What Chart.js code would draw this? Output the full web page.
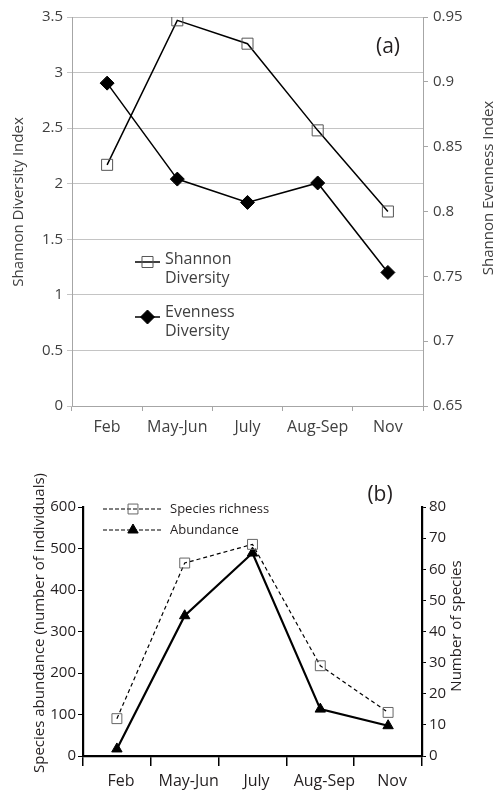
<!DOCTYPE html>
<html>
<head>
<meta charset="utf-8">
<script src="https://cdn.jsdelivr.net/npm/chart.js@4/dist/chart.umd.min.js"></script>
<style>
  html, body { margin: 0; padding: 0; background: #fff; }
  canvas { display: block; }
</style>
</head>
<body>
<canvas id="chartA" width="498" height="440"></canvas>
<canvas id="chartB" width="498" height="351"></canvas>
<script>
// --- data ---
const months = ['Feb', 'May-Jun', 'July', 'Aug-Sep', 'Nov'];
const shannon = [2.17, 3.47, 3.26, 2.48, 1.75];
const evenness = [0.899, 0.825, 0.807, 0.822, 0.753];
const abundance = [17, 338, 489, 113, 73];
const richness = [12, 62, 68, 29, 14];

Chart.defaults.font.family = "'Open Sans', sans-serif";
Chart.defaults.devicePixelRatio = 1;

const grayText = '#404040';
const blackText = '#231f20';
const gridGray = '#c4c4c4';
const axisGray = '#a6a6a6';

const fix = (prop, v) => (scale) => { scale[prop] = v; };
const fmt = (v) => String(+Number(v).toFixed(2));

// draws free text (axis titles, panel letters)
const textPlugin = {
  id: 'freeText',
  afterDraw(chart, args, opts) {
    const ctx = chart.ctx;
    (opts.items || []).forEach(it => {
      ctx.save();
      ctx.font = it.font;
      ctx.fillStyle = it.color;
      ctx.textAlign = 'center';
      ctx.textBaseline = 'middle';
      ctx.translate(it.x, it.y);
      if (it.rot) ctx.rotate(it.rot);
      ctx.fillText(it.text, 0, 0);
      ctx.restore();
    });
  }
};

// legend drawn inside the plot like the excel one
const innerLegend = {
  id: 'innerLegend',
  afterDatasetsDraw(chart, args, o) {
    if (!o.rows) return;
    const ctx = chart.ctx;
    o.rows.forEach((row, i) => {
      const ds = chart.data.datasets[i];
      ctx.save();
      ctx.strokeStyle = ds.borderColor;
      ctx.lineWidth = o.lineWidth;
      ctx.setLineDash(o.dash || []);
      ctx.beginPath();
      ctx.moveTo(o.x0, row.y);
      ctx.lineTo(o.x1, row.y);
      ctx.stroke();
      ctx.setLineDash([]);
      ctx.fillStyle = ds.pointBackgroundColor;
      ctx.strokeStyle = ds.pointBorderColor;
      ctx.lineWidth = ds.pointBorderWidth;
      Chart.helpers.drawPoint(ctx, {
        pointStyle: ds.pointStyle, radius: ds.pointRadius, rotation: 0, borderWidth: ds.pointBorderWidth
      }, (o.x0 + o.x1) / 2, row.y);
      ctx.font = o.font;
      ctx.fillStyle = o.color;
      ctx.textAlign = 'left';
      ctx.textBaseline = o.baseline || 'alphabetic';
      row.lines.forEach((t, j) => ctx.fillText(t, o.tx, row.ty + j * o.lh));
      ctx.restore();
    });
  }
};

// ---------- (a) ----------
new Chart(document.getElementById('chartA'), {
  type: 'line',
  data: {
    labels: months,
    datasets: [
      {
        label: 'Shannon Diversity', data: shannon, yAxisID: 'y',
        borderColor: '#000', borderWidth: 1.5, tension: 0,
        pointStyle: 'rect', pointRadius: 7.8, pointBorderWidth: 1,
        pointBackgroundColor: 'rgba(0,0,0,0)', pointBorderColor: '#555'
      },
      {
        label: 'Evenness Diversity', data: evenness, yAxisID: 'y1',
        borderColor: '#000', borderWidth: 1.5, tension: 0,
        pointStyle: 'rectRot', pointRadius: 7, pointBorderWidth: 1,
        pointBackgroundColor: '#000', pointBorderColor: '#000'
      }
    ]
  },
  options: {
    responsive: false,
    animation: false,
    layout: { padding: { top: 17, left: 0, right: 0, bottom: 0 } },
    plugins: {
      legend: { display: false },
      tooltip: { enabled: false },
      freeText: {
        items: [
          { text: 'Shannon Diversity Index', x: 19, y: 202, rot: -Math.PI / 2, font: "15px 'Open Sans'", color: grayText },
          { text: 'Shannon Evenness Index', x: 489, y: 188, rot: -Math.PI / 2, font: "15px 'Open Sans'", color: grayText },
          { text: '(a)', x: 388, y: 47, font: "21px 'Open Sans'", color: blackText }
        ]
      },
      innerLegend: {
        x0: 135, x1: 160, tx: 165, lh: 19, lineWidth: 1.5,
        font: "16px 'Open Sans'", color: grayText,
        rows: [
          { y: 262, ty: 264, lines: ['Shannon', 'Diversity'] },
          { y: 317, ty: 317, lines: ['Evenness', 'Diversity'] }
        ]
      }
    },
    scales: {
      x: {
        offset: true,
        afterFit: fix('height', 34),
        grid: { offset: true, drawOnChartArea: false, tickLength: 5, color: axisGray },
        border: { color: axisGray },
        ticks: { padding: 7, color: grayText, font: { size: 16 } }
      },
      y: {
        position: 'left', min: 0, max: 3.5,
        afterFit: fix('width', 72),
        grid: { color: gridGray, tickLength: 5 },
        border: { color: axisGray },
        ticks: { stepSize: 0.5, padding: 4, color: grayText, font: { size: 15 }, callback: fmt }
      },
      y1: {
        position: 'right', min: 0.65, max: 0.95,
        afterFit: fix('width', 75),
        grid: { drawOnChartArea: false, tickLength: 5, color: axisGray },
        border: { color: axisGray },
        ticks: { stepSize: 0.05, padding: 5, color: grayText, font: { size: 15 }, callback: fmt }
      }
    }
  },
  plugins: [textPlugin, innerLegend]
});

// ---------- (b) ----------
new Chart(document.getElementById('chartB'), {
  type: 'line',
  data: {
    labels: months,
    datasets: [
      {
        label: 'Species richness', data: richness, yAxisID: 'y1',
        borderColor: '#000', borderWidth: 1.2, borderDash: [4, 3], tension: 0,
        pointStyle: 'rect', pointRadius: 7, pointBorderWidth: 1,
        pointBackgroundColor: 'rgba(0,0,0,0)', pointBorderColor: '#666'
      },
      {
        label: 'Abundance', data: abundance, yAxisID: 'y',
        borderColor: '#000', borderWidth: 2.2, tension: 0,
        pointStyle: 'triangle', pointRadius: 6, pointBorderWidth: 1,
        pointBackgroundColor: '#000', pointBorderColor: '#000'
      }
    ]
  },
  options: {
    responsive: false,
    animation: false,
    layout: { padding: { top: 67, left: 0, right: 0, bottom: 0 } },
    plugins: {
      legend: { display: false },
      tooltip: { enabled: false },
      freeText: {
        items: [
          { text: 'Species abundance (number of individuals)', x: 40, y: 183, rot: -Math.PI / 2, font: "15px 'Open Sans'", color: blackText },
          { text: 'Number of species', x: 457, y: 186, rot: -Math.PI / 2, font: "15px 'Open Sans'", color: blackText },
          { text: '(b)', x: 380, y: 55, font: "21px 'Open Sans'", color: blackText }
        ]
      },
      innerLegend: {
        x0: 103, x1: 163, tx: 170, lh: 0, lineWidth: 1.2, dash: [4, 2],
        font: "13px 'Open Sans'", color: blackText, baseline: 'middle',
        rows: [
          { y: 69, ty: 69, lines: ['Species richness'] },
          { y: 90, ty: 90, lines: ['Abundance'] }
        ]
      }
    },
    scales: {
      x: {
        offset: true,
        afterFit: fix('height', 35),
        grid: { offset: true, drawOnChartArea: false, tickLength: 10, color: '#000', lineWidth: 1.5 },
        border: { color: '#000', width: 2.2 },
        ticks: { padding: 6, labelOffset: 4, color: blackText, font: { size: 16 } }
      },
      y: {
        position: 'left', min: 0, max: 600,
        afterFit: fix('width', 83),
        grid: { drawOnChartArea: false, tickLength: 5, color: '#000' },
        border: { color: '#000', width: 2.2 },
        ticks: { stepSize: 100, padding: 2, color: blackText, font: { size: 15 } }
      },
      y1: {
        position: 'right', min: 0, max: 80,
        afterFit: fix('width', 76),
        grid: { drawOnChartArea: false, tickLength: 4, color: '#000' },
        border: { color: '#000', width: 2.2 },
        ticks: { stepSize: 10, padding: 3, color: blackText, font: { size: 15 } }
      }
    }
  },
  plugins: [textPlugin, innerLegend]
});
</script>
</body>
</html>
